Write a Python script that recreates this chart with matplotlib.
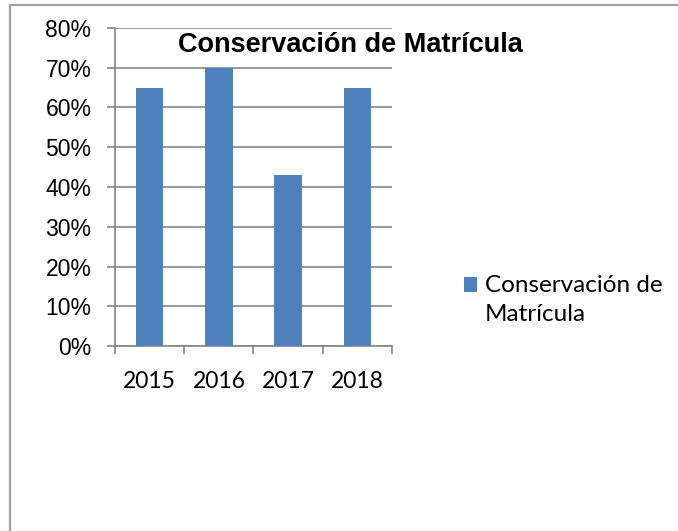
import numpy as np
import matplotlib.pyplot as plt
from matplotlib.patches import Rectangle
from matplotlib.legend_handler import HandlerPatch
from matplotlib.ticker import FuncFormatter

years = ['2015', '2016', '2017', '2018']
conservacion = [0.65, 0.70, 0.43, 0.65]
titulo = 'Conservación de Matrícula'
leyenda = 'Conservación de\nMatrícula'

azul = '#4F81BD'
gris = '#868686'

fig = plt.figure(figsize=(6.78, 5.31), dpi=100)
fig.patch.set_facecolor('white')

# marco exterior (solo se ven borde izq y sup)
fig.patches.append(Rectangle((10/678, -0.1), 1.2, 1 - 5/531 + 0.1, transform=fig.transFigure,
                             fill=False, edgecolor='#a0a0a0', linewidth=1.6))

ax = fig.add_axes([115/678, 1 - 346/531, 277/678, 318/531])
x = np.arange(len(years))
bars = ax.bar(x, conservacion, width=0.4, color=azul, zorder=3, label=leyenda)

ax.set_xlim(-0.5, 3.5)
ax.set_ylim(0, 0.8)
ax.set_yticks(np.arange(0, 0.81, 0.1))
ax.yaxis.set_major_formatter(FuncFormatter(lambda v, p: '{:.0f}%'.format(v * 100)))
ax.grid(axis='y', color=gris, linewidth=1.2, zorder=0)

ax.set_xticks(np.arange(-0.5, 3.6, 1))
ax.set_xticklabels([])
ax.set_xticks(x, minor=True)
ax.set_xticklabels(years, minor=True, fontsize=16.5, family=['Lato', 'DejaVu Sans'])
ax.tick_params(axis='x', which='major', length=6, width=1.2, color=gris, direction='out')
ax.tick_params(axis='x', which='minor', length=0, pad=18)
ax.tick_params(axis='y', length=6, width=1.2, color=gris, pad=11)
for t in ax.get_yticklabels():
    t.set_fontsize(16.5)
    t.set_family(['Liberation Sans', 'DejaVu Sans'])

for s in ['top', 'right']:
    ax.spines[s].set_visible(False)
for s in ['left', 'bottom']:
    ax.spines[s].set_color(gris)
    ax.spines[s].set_linewidth(1.2)

fig.text(350/678, 1 - 45/531, titulo, ha='center', va='center', fontsize=19.5,
         fontweight='bold', family=['Liberation Sans', 'DejaVu Sans'])


# cuadrado de la leyenda alineado con la primera linea
def cuadro_arriba(legend, orig_handle, xdescent, ydescent, width, height, fontsize):
    return Rectangle((-xdescent, -ydescent + 11), width, height, facecolor=azul)


leg = ax.legend(loc='center left', bbox_to_anchor=(442/678, 1 - 300/531), bbox_transform=fig.transFigure,
                frameon=False, prop={'family': ['Lato', 'DejaVu Sans'], 'size': 17.5},
                handlelength=0.54, handleheight=0.54, handletextpad=0.33,
                handler_map={type(bars): HandlerPatch(patch_func=cuadro_arriba,
                                                      update_func=lambda a, b: None)})
for t in leg.get_texts():
    t.set_linespacing(1.5)

fig.savefig('out.png', dpi=100, facecolor='white')
